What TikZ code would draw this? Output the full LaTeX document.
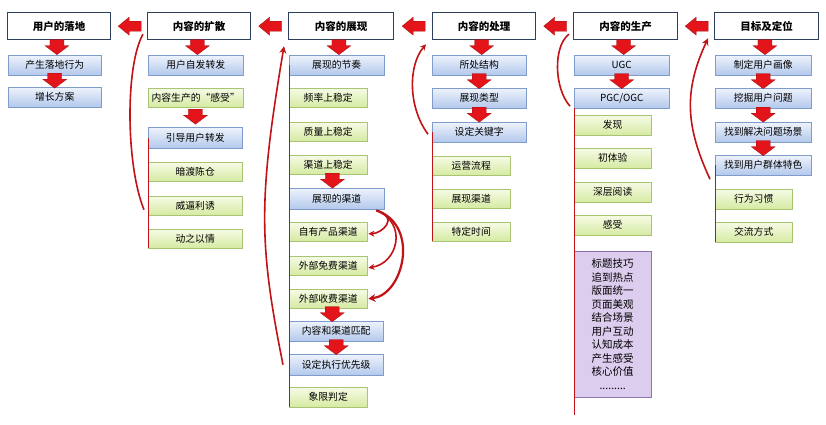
\documentclass[tikz,border=0pt]{standalone}
\usepackage{fontspec}
\setmainfont{Noto Sans CJK SC}
\usetikzlibrary{calc,arrows.meta}
\definecolor{navy}{HTML}{2E3F5C}
\definecolor{bluetop}{HTML}{EEF3FC}
\definecolor{bluebot}{HTML}{B3C8EC}
\definecolor{blueline}{HTML}{7F9CCB}
\definecolor{greentop}{HTML}{F6FBE6}
\definecolor{greenbot}{HTML}{D5EAA2}
\definecolor{greenline}{HTML}{A9C473}
\definecolor{purplefill}{HTML}{DCCCEE}
\definecolor{purpleline}{HTML}{8A73AE}
\definecolor{arrred}{HTML}{E3151A}
\tikzset{
  box/.style={anchor=north west, inner sep=0pt, font=\fontsize{9.8}{11}\selectfont},
  title/.style={box, draw=navy, line width=1.3pt, fill=white, font=\fontsize{10.5}{12}\selectfont\bfseries},
  bluebox/.style={box, draw=blueline, top color=bluetop, bottom color=bluebot},
  greenbox/.style={box, draw=greenline, top color=greentop, bottom color=greenbot},
  purplebox/.style={box, draw=purpleline, fill=purplefill, align=center,
    font=\fontsize{10.5}{13.5}\selectfont},
  redline/.style={arrred!85!black, line width=0.8pt},
  redcurve/.style={arrred!85!black, line width=1.6pt},
  downarr/.pic={\fill[arrred, draw=arrred!70!black, line width=0.3pt]
    (-7,-8)--(7,-8)--(7,-2)--(12,-2)--(0,7)--(-12,-2)--(-7,-2)--cycle;},
  leftarr/.pic={\fill[arrred, draw=arrred!70!black, line width=0.3pt]
    (12,-5)--(0,-5)--(0,-9)--(-11,0)--(0,9)--(0,5)--(12,5)--cycle;}
}
\begin{document}
\begin{tikzpicture}[x=1pt, y=-1pt]
\useasboundingbox[fill=white] (0,0) rectangle (826,424);
% titles
\node[title, minimum width=103, minimum height=27] (t1) at (7,12) {用户的落地};
\node[title, minimum width=103, minimum height=27] (t2) at (147,12) {内容的扩散};
\node[title, minimum width=105, minimum height=27] (t3) at (288,12) {内容的展现};
\node[title, minimum width=103, minimum height=27] (t4) at (432,12) {内容的处理};
\node[title, minimum width=104, minimum height=27] (t5) at (573,12) {内容的生产};
\node[title, minimum width=104, minimum height=27] (t6) at (714,12) {目标及定位};
% column 1
\node[bluebox, minimum width=93, minimum height=20] (a1) at (8,55) {产生落地行为};
\node[bluebox, minimum width=93, minimum height=20] (a2) at (8,87) {增长方案};
% column 2
\node[bluebox, minimum width=95, minimum height=20] (b1) at (148,55) {用户自发转发};
\node[greenbox, minimum width=95, minimum height=19] (b2) at (148,88) {内容生产的“感受”};
\node[bluebox, minimum width=94, minimum height=21] (b3) at (148,127) {引导用户转发};
\node[greenbox, minimum width=94, minimum height=19] (b4) at (148,162) {暗渡陈仓};
\node[greenbox, minimum width=94, minimum height=19] (b5) at (148,196) {威逼利诱};
\node[greenbox, minimum width=94, minimum height=19] (b6) at (148,229) {动之以情};
% column 3
\node[bluebox, minimum width=95, minimum height=20] (c1) at (289,55) {展现的节奏};
\node[greenbox, minimum width=78, minimum height=19] (c2) at (289,88) {频率上稳定};
\node[greenbox, minimum width=78, minimum height=19] (c3) at (289,122) {质量上稳定};
\node[greenbox, minimum width=78, minimum height=19] (c4) at (289,155) {渠道上稳定};
\node[bluebox, minimum width=95, minimum height=21] (c5) at (289,188) {展现的渠道};
\node[greenbox, minimum width=78, minimum height=19] (c6) at (289,222) {自有产品渠道};
\node[greenbox, minimum width=78, minimum height=19] (c7) at (289,256) {外部免费渠道};
\node[greenbox, minimum width=78, minimum height=19] (c8) at (289,289) {外部收费渠道};
\node[bluebox, minimum width=94, minimum height=20] (c9) at (289,321) {内容和渠道匹配};
\node[bluebox, minimum width=94, minimum height=21] (c10) at (289,354) {设定执行优先级};
\node[greenbox, minimum width=78, minimum height=20] (c11) at (289,387) {象限判定};
% column 4
\node[bluebox, minimum width=94, minimum height=20] (d1) at (432,55) {所处结构};
\node[bluebox, minimum width=94, minimum height=20] (d2) at (432,88) {展现类型};
\node[bluebox, minimum width=94, minimum height=20] (d3) at (432,122) {设定关键字};
\node[greenbox, minimum width=78, minimum height=19] (d4) at (432,156) {运营流程};
\node[greenbox, minimum width=78, minimum height=19] (d5) at (432,189) {展现渠道};
\node[greenbox, minimum width=78, minimum height=19] (d6) at (432,222) {特定时间};
% column 5
\node[bluebox, minimum width=95, minimum height=20] (e1) at (574,55) {UGC};
\node[bluebox, minimum width=95, minimum height=20] (e2) at (574,88) {PGC/OGC};
\node[greenbox, minimum width=77, minimum height=20] (e3) at (574,115) {发现};
\node[greenbox, minimum width=77, minimum height=20] (e4) at (574,148) {初体验};
\node[greenbox, minimum width=77, minimum height=20] (e5) at (574,182) {深层阅读};
\node[greenbox, minimum width=77, minimum height=20] (e6) at (574,215) {感受};
\node[purplebox, minimum width=77, minimum height=146] (e7) at (574,251)
  {标题技巧\\追到热点\\版面统一\\页面美观\\结合场景\\用户互动\\认知成本\\产生感受\\核心价值\\.........};
% column 6
\node[bluebox, minimum width=96, minimum height=20] (f1) at (715,55) {制定用户画像};
\node[bluebox, minimum width=96, minimum height=20] (f2) at (715,88) {挖掘用户问题};
\node[bluebox, minimum width=96, minimum height=20] (f3) at (715,122) {找到解决问题场景};
\node[bluebox, minimum width=96, minimum height=20] (f4) at (715,155) {找到用户群体特色};
\node[greenbox, minimum width=77, minimum height=20] (f5) at (715,189) {行为习惯};
\node[greenbox, minimum width=77, minimum height=20] (f6) at (715,222) {交流方式};
% thin red lines
\draw[redline] (b3.west) -- (b6.south west);
\draw[redline] (c1.west) -- (c11.south west);
\draw[redline] (d3.west) -- (d6.south west);
\draw[redline] (e2.south west) -- ($(e7.south west)+(0,18)$);
\draw[redline] (f4.west) -- (f6.south west);
% curved arrows back to the titles
\draw[redcurve] ($(b5.west)+(-4,4)$) .. controls ($(b5.west)+(-22,-40)$) and ($(t2.west)+(-22,40)$) .. ($(t2.west)+(-4,8)$);
\draw[redcurve, -{Stealth[length=7pt,width=7pt]}] ($(c10.west)+(-6,0)$) .. controls ($(c10.west)+(-30,-120)$) and ($(t3.south west)+(-30,160)$) .. ($(t3.south west)+(-4,6)$);
\draw[redcurve, -{Stealth[length=6pt,width=6pt]}] ($(d3.west)+(-4,2)$) .. controls ($(d3.west)+(-24,-25)$) and ($(t4.south west)+(-24,25)$) .. ($(t4.south west)+(-6,4)$);
\draw[redcurve] ($(e2.west)+(-4,8)$) .. controls ($(e2.west)+(-20,-10)$) and ($(t5.west)+(-20,20)$) .. ($(t5.west)+(-4,8)$);
\draw[redcurve, -{Stealth[length=7pt,width=7pt]}] ($(f4.west)+(-5,14)$) .. controls ($(f4.west)+(-30,-40)$) and ($(t6.south west)+(-30,50)$) .. ($(t6.south west)+(-6,-2)$);
% channel arrows
\draw[redcurve, -{Stealth[length=6pt,width=6pt]}] ($(c5.south east)+(-8,1)$) .. controls ($(c5.south east)+(16,8)$) and ($(c6.east)+(14,2)$) .. ($(c6.east)+(1,2)$);
\draw[redcurve, -{Stealth[length=6pt,width=6pt]}] ($(c5.south east)+(-8,1)$) .. controls ($(c5.south east)+(24,14)$) and ($(c7.east)+(30,-2)$) .. ($(c7.east)+(1,2)$);
\draw[redcurve, line width=2.2pt, -{Stealth[length=7pt,width=8pt]}] ($(c5.south east)+(-8,1)$) .. controls ($(c5.south east)+(36,16)$) and ($(c8.east)+(36,-4)$) .. ($(c8.east)+(1,0)$);
% block arrows between titles
\foreach \a/\b in {t2/t1,t3/t2,t4/t3,t5/t4,t6/t5}
  \pic at ($(\a.west)!0.5!(\b.east)+(0,0)$) {leftarr};
% block arrows down the columns
\foreach \a/\b in {t1/a1,a1/a2,t2/b1,b2/b3,t3/c1,c4/c5,c8/c9,c9/c10,
  t4/d1,d1/d2,d2/d3,t5/e1,e1/e2,t6/f1,f1/f2,f2/f3,f3/f4}
  \pic at ($(\a.south)!0.5!(\b.north)$) {downarr};
\end{tikzpicture}
\end{document}
